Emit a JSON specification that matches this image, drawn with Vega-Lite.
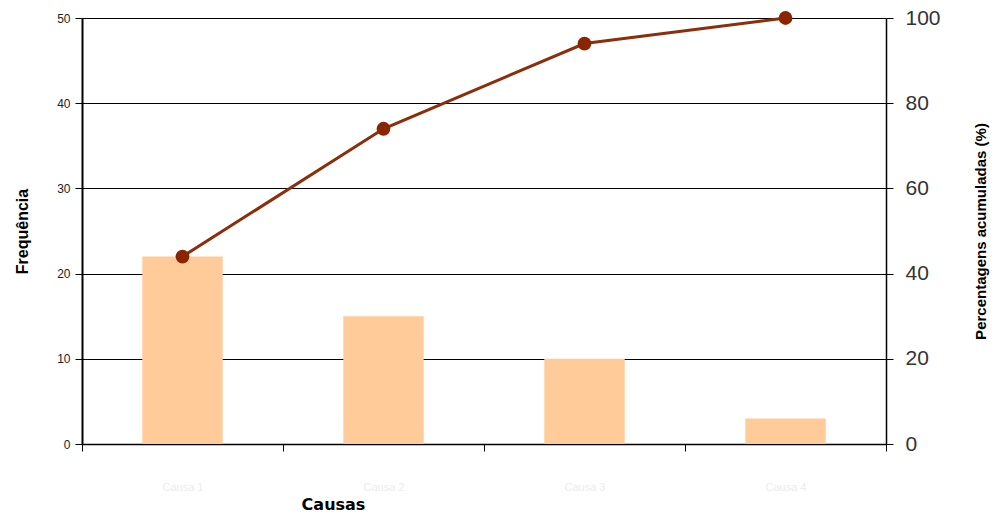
{
  "$schema": "https://vega.github.io/schema/vega-lite/v6.json",
  "width": 804,
  "height": 426,
  "autosize": {"type": "none"},
  "padding": {"left": 82, "top": 18, "right": 114, "bottom": 73},
  "background": "white",
  "config": {
    "view": {"stroke": null},
    "axis": {"domainColor": "#000", "tickColor": "#000", "gridColor": "#000", "gridOpacity": 1, "gridWidth": 1, "domainWidth": 1.5}
  },
  "data": {
    "values": [
      {"causa": "Causa 1", "freq": 22, "acum": 44},
      {"causa": "Causa 2", "freq": 15, "acum": 74},
      {"causa": "Causa 3", "freq": 10, "acum": 94},
      {"causa": "Causa 4", "freq": 3, "acum": 100}
    ]
  },
  "encoding": {
    "x": {
      "field": "causa", "type": "nominal", "sort": null,
      "scale": {"paddingInner": 0, "paddingOuter": 0},
      "axis": {
        "title": "Causas", "labelAngle": 0, "tickBand": "extent", "tickSize": 7,
        "labelColor": "#ececec", "labelFont": "Liberation Sans", "labelFontSize": 11, "labelPadding": 30,
        "titleFont": "DejaVu Sans", "titleFontSize": 16, "titleFontWeight": "bold", "titleColor": "#000",
        "titleX": 251, "titleY": 52, "titleAlign": "center"
      }
    }
  },
  "layer": [
    {
      "mark": {"type": "bar", "color": "#FFCC99", "width": {"band": 0.4}},
      "encoding": {
        "y": {
          "field": "freq", "type": "quantitative",
          "scale": {"domain": [0, 50]},
          "axis": {
            "title": "Frequência", "values": [0, 10, 20, 30, 40, 50], "grid": true, "domain": true, "domainWidth": 2, "tickSize": 7,
            "labelFont": "Liberation Sans", "labelFontSize": 12, "labelColor": "#222", "labelPadding": 5,
            "titleFont": "Liberation Sans", "titleFontSize": 16, "titleFontWeight": "bold", "titleColor": "#000", "titlePadding": 26
          }
        }
      }
    },
    {
      "mark": {"type": "line", "color": "#8B2E0B", "strokeWidth": 3},
      "encoding": {
        "y": {
          "field": "acum", "type": "quantitative",
          "scale": {"domain": [0, 100]},
          "axis": {
            "orient": "right", "title": "Percentagens acumuladas (%)", "values": [0, 20, 40, 60, 80, 100], "grid": false, "domain": true, "tickSize": 7,
            "labelFont": "Liberation Sans", "labelFontSize": 21, "labelColor": "#333", "labelPadding": 12,
            "titleFont": "Liberation Sans", "titleFontSize": 15, "titleFontWeight": "bold", "titleColor": "#000", "titlePadding": 48, "titleAngle": 270
          }
        }
      }
    },
    {
      "mark": {"type": "point", "filled": true, "shape": "circle", "color": "#8B2500", "size": 190, "opacity": 1},
      "encoding": {
        "y": {"field": "acum", "type": "quantitative", "scale": {"domain": [0, 100]}, "axis": null}
      }
    }
  ],
  "resolve": {"scale": {"y": "independent"}}
}
